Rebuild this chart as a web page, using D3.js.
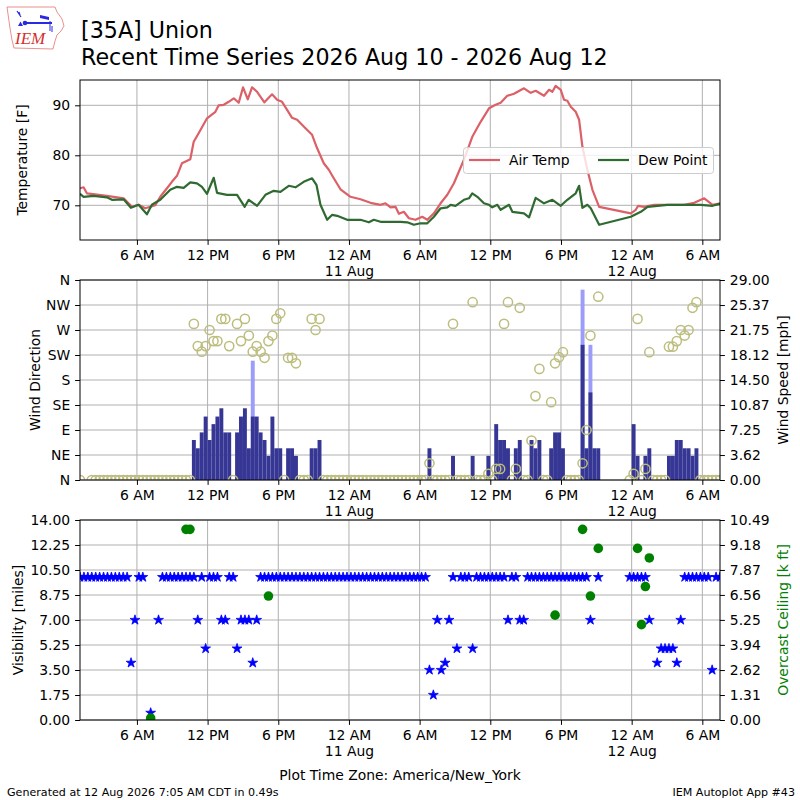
<!DOCTYPE html>
<html>
<head>
<meta charset="utf-8">
<script src="https://cdn.jsdelivr.net/npm/d3@7"></script>
<style>
body { margin: 0; background: #fff; }
</style>
</head>
<body>
<div id="chart"></div>
<script>
// hours since 10 Aug 00:00 (America/New_York)
var tempHours = [1.17,1.47,1.75,3.45,4.87,5.58,6.14,6.71,7.56,7.98,8.55,8.97,9.40,9.82,10.53,10.82,11.24,11.95,12.66,12.94,
	13.37,13.79,14.22,14.64,15.01,15.41,15.77,16.20,16.82,17.47,17.90,18.32,18.75,19.17,19.60,20.31,20.87,21.30,21.86,22.29,
	22.71,23.28,24.13,24.98,25.83,26.68,27.10,27.53,27.95,28.24,28.66,29.09,29.65,30.22,30.65,31.21,31.78,32.35,32.91,33.76,
	34.47,35.18,35.89,36.45,36.88,37.44,38.01,38.86,39.43,39.85,40.56,40.99,41.27,41.55,41.98,42.26,42.54,42.83,43.25,43.54,
	43.82,44.24,44.67,45.24,47.93,48.35,48.55,49.06,49.91,51.04,52.46,53.31,54.16,54.87,55.50];
var tempF = [73.4,73.6,72.4,71.9,71.4,69.7,70.1,69.4,70.0,71.7,73.4,74.7,75.9,78.4,79.2,82.7,84.4,87.4,88.7,90.0,
	90.1,90.7,91.4,90.5,93.6,91.2,93.6,92.7,90.6,92.2,91.1,90.7,89.1,87.5,87.1,85.4,84.1,81.4,78.4,77.1,
	75.4,73.2,71.7,71.2,70.5,70.1,70.4,69.6,69.7,68.3,68.7,67.4,67.1,67.7,67.1,68.4,70.4,72.1,74.4,79.1,
	83.7,86.7,89.4,90.1,90.5,91.9,92.3,93.4,92.5,92.9,91.9,93.1,92.7,93.9,93.1,91.1,90.9,89.7,88.7,87.1,
	81.7,77.1,73.1,69.7,68.4,69.1,69.9,69.7,70.1,70.1,70.1,70.5,71.4,70.1,70.4];

var dewHours = [1.17,1.47,2.32,3.45,3.88,4.87,5.49,6.14,6.85,7.27,7.98,8.83,9.40,9.97,10.53,11.10,11.52,11.95,12.52,12.80,
	13.65,14.50,15.15,15.49,16.20,16.91,17.61,18.18,18.89,19.46,20.16,20.87,21.24,21.58,22.15,22.58,23.00,23.85,24.98,25.69,
	26.11,26.68,28.38,28.95,29.51,30.08,30.65,31.21,31.78,32.35,32.63,33.05,33.76,34.19,34.47,34.90,35.46,35.89,36.17,36.60,
	36.88,37.59,37.87,38.86,39.29,39.85,40.56,41.27,41.98,42.54,43.25,43.54,43.82,44.24,44.53,45.24,47.93,48.78,49.35,51.04,
	53.87,54.87,55.50];
var dewF = [72.3,71.7,71.9,71.6,71.1,71.2,69.5,70.1,68.2,70.1,71.1,73.1,73.7,73.5,74.6,74.4,73.7,72.3,75.5,72.5,
	72.1,72.1,69.7,71.1,69.9,72.1,72.9,72.7,73.9,73.6,74.7,75.4,74.1,70.1,67.1,68.1,67.9,67.1,67.1,66.6,
	67.1,66.7,66.7,66.6,66.1,66.4,66.4,67.7,69.4,69.6,70.1,69.9,71.1,71.4,72.4,71.7,70.4,70.1,69.6,70.1,
	69.1,70.1,68.7,68.4,67.6,71.5,70.4,71.1,69.9,71.1,72.4,73.9,69.5,70.1,69.4,66.1,67.7,68.7,69.7,70.1,
	70.1,69.9,70.3];

// observations every 20 minutes starting 10 Aug 01:10, index k
var obsStartHour = 1 + 10 / 60;
var obsCount = 164;
var missingObs = [133, 134, 135, 136, 137, 138, 139];
var windGapObs = [1, 2];

var windIdx = [29,30,31,32,33,34,35,36,37,38,40,41,42,43,44,45,46,47,48,49,50,51,53,54,55,59,60,61,
	89,95,100,104,106,107,108,109,111,112,115,116,117,120,121,122,123,128,129,130,131,132,
	141,142,144,145,150,151,152,153,154,155,156,157];
var windMph = [5.8,4.6,6.9,9.2,5.8,8.1,9.2,10.4,6.9,6.9,6.9,9.2,10.4,4.6,9.2,9.2,6.9,5.8,3.5,9.2,4.6,4.6,4.6,4.6,3.5,4.6,4.6,5.8,
	4.6,3.5,3.5,3.5,8.1,5.8,5.8,4.6,4.6,5.8,5.8,4.6,5.8,4.6,6.9,6.9,4.6,19.6,4.6,12.7,4.6,4.6,
	8.1,3.5,3.5,4.6,3.5,3.5,5.8,5.8,4.6,4.6,3.5,4.6];
var windDir = [281,241,231,241,270,250,250,290,290,241,281,250,290,260,231,241,231,220,250,260,290,300,220,220,210,290,270,290,
	30,281,320,11,20,20,281,320,20,310,71,151,200,140,210,221,230,30,90,260,null,330,
	11,290,20,230,240,240,250,270,260,270,310,320];
var gustIdx = [44, 128, 130];
var gustMph = [17.3, 27.6, 19.6];

// visibility: 10 miles unless listed
var visIdx = [13,14,17,18,19,20,30,32,36,37,40,41,42,43,44,45,89,90,91,92,
	93,94,96,100,109,112,113,130,131,145,146,147,148,149,150,151,152,153,161];
var visMiles = [4,7,null,0.5,null,7,7,5,7,7,5,7,7,7,4,7,3.5,1.75,7,3.5,
	4,7,5,5,7,7,7,7,null,7,null,4,5,5,5,5,4,7,3.5];
var ceilIdx = [18, 27, 28, 48, 121, 128, 130, 132, 142, 143, 144, 145];
var ceilKft = [0.1, 10.0, 10.0, 6.5, 5.5, 10.0, 6.5, 9.0, 9.0, 5.0, 7.0, 8.5];

var tempTicks = [70, 80, 90];
var dirTicks = [0, 45, 90, 135, 180, 225, 270, 315, 360];
var dirLabels = ['N', 'NE', 'E', 'SE', 'S', 'SW', 'W', 'NW', 'N'];
var speedTickLabels = ['0.00','3.62','7.25','10.87','14.50','18.12','21.75','25.37','29.00'];
var visTickLabels = ['0.00','1.75','3.50','5.25','7.00','8.75','10.50','12.25','14.00'];
var ceilTickLabels = ['0.00','1.31','2.62','3.94','5.25','6.56','7.87','9.18','10.49'];

var FONT = '"DejaVu Sans", sans-serif';
var FS = 13.9;
var day0 = Date.UTC(2026, 7, 10, 0, 0);
function hourToDate(h) { return new Date(day0 + h * 3600e3); }
function obsDate(k) { return hourToDate(obsStartHour + k / 3); }

var svg = d3.select('#chart')
	.append('svg')
	.attr('width', 800)
	.attr('height', 800)
	.style('font-family', FONT);

var left = 80, right = 720;
var x = d3.scaleUtc()
	.domain([obsDate(0), obsDate(obsCount - 1)])
	.range([left, right]);
var xTicks = x.ticks(d3.utcHour.every(6));
var barW = x(obsDate(1)) - x(obsDate(0));

var tempY = d3.scaleLinear().domain([63.06, 95.06]).range([240, 80]);
var dirY = d3.scaleLinear().domain([0, 360]).range([480, 280]);
var speedY = d3.scaleLinear().domain([0, 29]).range([480, 280]);
var visY = d3.scaleLinear().domain([0, 14]).range([720, 520]);
var ceilY = d3.scaleLinear().domain([0, 10.49]).range([720, 520]);

function hourLabel(d) {
	var h = d.getUTCHours();
	var hh = h % 12 === 0 ? 12 : h % 12;
	return hh + ' ' + (h < 12 ? 'AM' : 'PM');
}
var dayLabel = d3.utcFormat('%-d %b');

function styleAxis(g) {
	g.attr('font-family', FONT).attr('font-size', FS);
	g.selectAll('.tick line').attr('stroke', '#000').attr('stroke-width', 1);
	g.selectAll('.tick text').attr('fill', '#000');
	g.select('.domain').remove();
}

// grid + clip for a panel
function panel(name, top, bottom, yScale, yTicks) {
	svg.append('clipPath').attr('id', 'clip-' + name)
		.append('rect').attr('x', left).attr('y', top)
		.attr('width', right - left).attr('height', bottom - top);
	var grid = svg.append('g').attr('stroke', '#b0b0b0').attr('stroke-width', 1);
	grid.selectAll('line.v').data(xTicks).enter().append('line')
		.attr('x1', function(d){ return x(d); })
		.attr('x2', function(d){ return x(d); })
		.attr('y1', top).attr('y2', bottom);
	grid.selectAll('line.h').data(yTicks).enter().append('line')
		.attr('x1', left).attr('x2', right)
		.attr('y1', function(d){ return yScale(d); })
		.attr('y2', function(d){ return yScale(d); });
	return svg.append('g').attr('clip-path', 'url(#clip-' + name + ')');
}

function frame(top, bottom) {
	var ax = svg.append('g')
		.attr('transform', 'translate(0,' + bottom + ')')
		.call(d3.axisBottom(x).tickValues(xTicks).tickSize(4.9).tickPadding(4.9).tickFormat(hourLabel));
	styleAxis(ax);
	ax.selectAll('.tick').filter(function(d){ return d.getUTCHours() === 0; })
		.append('text')
		.attr('fill', '#000')
		.attr('y', 26)
		.attr('dy', '0.71em')
		.text(function(d){ return dayLabel(d); });
	svg.append('rect')
		.attr('x', left).attr('y', top)
		.attr('width', right - left).attr('height', bottom - top)
		.attr('fill', 'none').attr('stroke', '#000').attr('stroke-width', 1);
}

function yLabel(text, cx, cy, color) {
	svg.append('text')
		.attr('transform', 'translate(' + cx + ',' + cy + ') rotate(-90)')
		.attr('text-anchor', 'middle')
		.attr('dy', '0.35em')
		.attr('font-size', FS)
		.attr('fill', color || '#000')
		.text(text);
}

var skip = {};
missingObs.forEach(function(k){ skip[k] = true; });

// ---------- Panel 1: temperature ----------
var p1 = panel('t', 80, 240, tempY, tempTicks);
var line = d3.line()
	.x(function(d){ return x(hourToDate(d[0])); })
	.y(function(d){ return tempY(d[1]); });
p1.append('path')
	.datum(d3.zip(tempHours, tempF))
	.attr('d', line)
	.attr('fill', 'none').attr('stroke', '#dc6067').attr('stroke-width', 2.2)
	.attr('stroke-linejoin', 'round');
p1.append('path')
	.datum(d3.zip(dewHours, dewF))
	.attr('d', line)
	.attr('fill', 'none').attr('stroke', '#2f6a30').attr('stroke-width', 2.2)
	.attr('stroke-linejoin', 'round');
frame(80, 240);
styleAxis(svg.append('g').attr('transform', 'translate(' + left + ',0)')
	.call(d3.axisLeft(tempY).tickValues(tempTicks).tickSize(4.9).tickPadding(4.9)));
yLabel('Temperature [F]', 22, 160);

// legend
var leg = svg.append('g');
leg.append('rect').attr('x', 463.5).attr('y', 147.5).attr('width', 250).attr('height', 26).attr('rx', 3)
	.attr('fill', '#fff').attr('fill-opacity', 0.8).attr('stroke', '#cccccc');
[['Air Temp', '#dc6067', 469], ['Dew Point', '#2f6a30', 598]].forEach(function(s){
	leg.append('line').attr('x1', s[2]).attr('x2', s[2] + 31).attr('y1', 160).attr('y2', 160)
		.attr('stroke', s[1]).attr('stroke-width', 2.2);
	leg.append('text').attr('x', s[2] + 40).attr('y', 160).attr('dy', '0.35em')
		.attr('font-size', FS).text(s[0]);
});

// ---------- Panel 2: wind ----------
var p2 = panel('w', 280, 480, dirY, dirTicks);
p2.selectAll('rect.gust').data(d3.zip(gustIdx, gustMph)).enter().append('rect')
	.attr('x', function(d){ return x(obsDate(d[0])) - barW / 2; })
	.attr('width', barW)
	.attr('y', function(d){ return speedY(d[1]); })
	.attr('height', function(d){ return speedY(0) - speedY(d[1]); })
	.attr('fill', '#9c9cfa');
p2.selectAll('rect.speed').data(d3.zip(windIdx, windMph)).enter().append('rect')
	.attr('x', function(d){ return x(obsDate(d[0])) - barW / 2; })
	.attr('width', barW)
	.attr('y', function(d){ return speedY(d[1]); })
	.attr('height', function(d){ return speedY(0) - speedY(d[1]); })
	.attr('fill', '#363694');

var dirPts = [];
var windByIdx = {};
windIdx.forEach(function(k, i){ windByIdx[k] = windDir[i]; });
d3.range(obsCount).forEach(function(k){
	if (skip[k] || windGapObs.indexOf(k) >= 0) return;
	var d = k in windByIdx ? windByIdx[k] : 0;
	if (d === null) return;
	dirPts.push([k, d]);
});
p2.selectAll('circle.dir').data(dirPts).enter().append('circle')
	.attr('cx', function(d){ return x(obsDate(d[0])); })
	.attr('cy', function(d){ return dirY(d[1]); })
	.attr('r', 4.6)
	.attr('fill', 'none').attr('stroke', '#bdbd7e').attr('stroke-width', 1.5);
frame(280, 480);
styleAxis(svg.append('g').attr('transform', 'translate(' + left + ',0)')
	.call(d3.axisLeft(dirY).tickValues(dirTicks).tickSize(4.9).tickPadding(4.9)
		.tickFormat(function(d, i){ return dirLabels[i]; })));
styleAxis(svg.append('g').attr('transform', 'translate(' + right + ',0)')
	.call(d3.axisRight(speedY).tickValues(speedTickLabels.map(Number)).tickSize(4.9).tickPadding(4.9)
		.tickFormat(function(d, i){ return speedTickLabels[i]; })));
yLabel('Wind Direction', 35, 380);
yLabel('Wind Speed [mph]', 783, 380);

// ---------- Panel 3: visibility / ceiling ----------
var p3 = panel('v', 520, 720, visY, visTickLabels.map(Number));
var visByIdx = {};
visIdx.forEach(function(k, i){ visByIdx[k] = visMiles[i]; });
var visPts = [];
d3.range(obsCount).forEach(function(k){
	if (skip[k]) return;
	var v = k in visByIdx ? visByIdx[k] : 10;
	if (v === null) return;
	visPts.push([k, v]);
});
var star = d3.symbol().type(d3.symbolStar).size(30);
p3.selectAll('path.vis').data(visPts).enter().append('path')
	.attr('d', star)
	.attr('transform', function(d){ return 'translate(' + x(obsDate(d[0])) + ',' + visY(d[1]) + ')'; })
	.attr('fill', '#0000ff').attr('stroke', '#0000ff').attr('stroke-width', 0.8)
	.attr('stroke-linejoin', 'round');
p3.selectAll('circle.ceil').data(d3.zip(ceilIdx, ceilKft)).enter().append('circle')
	.attr('cx', function(d){ return x(obsDate(d[0])); })
	.attr('cy', function(d){ return ceilY(d[1]); })
	.attr('r', 4.8)
	.attr('fill', '#008000');
frame(520, 720);
styleAxis(svg.append('g').attr('transform', 'translate(' + left + ',0)')
	.call(d3.axisLeft(visY).tickValues(visTickLabels.map(Number)).tickSize(4.9).tickPadding(4.9)
		.tickFormat(function(d, i){ return visTickLabels[i]; })));
styleAxis(svg.append('g').attr('transform', 'translate(' + right + ',0)')
	.call(d3.axisRight(ceilY).tickValues(ceilTickLabels.map(Number)).tickSize(4.9).tickPadding(4.9)
		.tickFormat(function(d, i){ return ceilTickLabels[i]; })));
yLabel('Visibility [miles]', 18, 620);
yLabel('Overcast Ceiling [k ft]', 783, 620, '#008000');

// ---------- titles and footer ----------
svg.append('text').attr('x', 81).attr('y', 38).attr('font-size', 22.2).text('[35A] Union');
svg.append('text').attr('x', 81).attr('y', 64.5).attr('font-size', 22.2)
	.text('Recent Time Series 2026 Aug 10 - 2026 Aug 12');
svg.append('text').attr('x', 400).attr('y', 780).attr('text-anchor', 'middle').attr('font-size', FS)
	.text('Plot Time Zone: America/New_York');
svg.append('text').attr('x', 7).attr('y', 796).attr('font-size', 11.1)
	.text('Generated at 12 Aug 2026 7:05 AM CDT in 0.49s');
svg.append('text').attr('x', 795).attr('y', 796).attr('text-anchor', 'end').attr('font-size', 11.1)
	.text('IEM Autoplot App #43');

// IEM logo
var logo = svg.append('g');
logo.append('path')
	.attr('d', 'M7,7 L55,7 L57,12 L62,19 L64,26 L61,31 L57,35 L55,41 L53,49 L14,48 L12,40 L10,28 Z')
	.attr('fill', 'none').attr('stroke', '#e57373').attr('stroke-width', 0.8);
logo.append('line').attr('x1', 25).attr('y1', 23).attr('x2', 52).attr('y2', 23)
	.attr('stroke', '#2a2ae0').attr('stroke-width', 2);
logo.append('circle').attr('cx', 25).attr('cy', 23).attr('r', 2.3).attr('fill', '#2a2ae0');
logo.append('path').attr('d', 'M18,26 L20.5,21.5 L23,26 Z').attr('fill', '#2a2ae0');
logo.append('path').attr('d', 'M17,11 L21,17 M19,12 L20,15').attr('stroke', '#2a2ae0').attr('stroke-width', 1.2);
logo.append('path').attr('d', 'M40,15 L49,17 L49,20 L40,18 Z').attr('fill', '#2a2ae0');
logo.append('path').attr('d', 'M50,21 L50,31 M52,26 L52,32').attr('stroke', '#2a2ae0').attr('stroke-width', 1);
logo.append('text').attr('x', 15).attr('y', 44)
	.attr('font-family', '"Liberation Serif", serif').attr('font-style', 'italic')
	.attr('font-size', 17).attr('fill', '#d32f2f').text('IEM');
</script>
</body>
</html>
